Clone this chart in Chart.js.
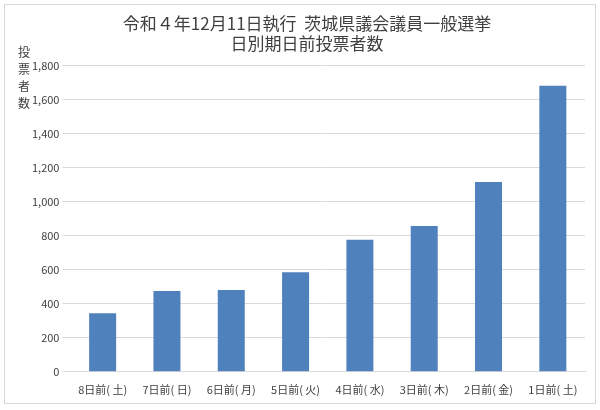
<!DOCTYPE html>
<html>
<head>
<meta charset="utf-8">
<script src="https://cdn.jsdelivr.net/npm/chart.js@4"></script>
<style>
body{margin:0;background:#fff;}
#wrap{position:relative;width:592px;height:400px;border:1px solid #d9d9d9;margin:4px;box-sizing:border-box;}
#ytitle{position:absolute;left:13px;top:38px;font:12px "Noto Sans CJK JP";color:#404040;line-height:17px;}
canvas{position:absolute;left:0;top:0;}
</style>
</head>
<body>
<div id="wrap">
<canvas id="c" width="590" height="398"></canvas>
<div id="ytitle">投<br>票<br>者<br>数</div>
</div>
<script>
const labels = ["8日前( 土)","7日前( 日)","6日前( 月)","5日前( 火)","4日前( 水)","3日前( 木)","2日前( 金)","1日前( 土)"];
const voters = [345, 475, 481, 586, 777, 857, 1116, 1683];

new Chart(document.getElementById("c"),{
type:"bar",
data:{
labels:labels,
datasets:[{
data:voters,
backgroundColor:"#4f81bd",
categoryPercentage:1,
barPercentage:0.42
}]
},
options:{
responsive:false,
animation:false,
devicePixelRatio:1,
layout:{padding:{left:24,right:10,top:2,bottom:4}},
plugins:{
legend:{display:false},
title:{
display:true,
text:["令和４年12月11日執行  茨城県議会議員一般選挙","日別期日前投票者数"],
color:"#404040",
font:{family:"Noto Sans CJK JP",size:17,weight:"normal"},
padding:{top:6,bottom:12},
lineHeight:1.15
}
},
scales:{
x:{
grid:{display:false},
border:{color:"#d9d9d9"},
ticks:{color:"#404040",font:{family:"Noto Sans CJK JP",size:11},maxRotation:0,autoSkip:false}
},
y:{
min:0,max:1800,
ticks:{stepSize:200,color:"#404040",font:{family:"Noto Sans CJK JP",size:11}},
grid:{color:"#d9d9d9"},
border:{display:false}
}
}
}
});
</script>
</body>
</html>
